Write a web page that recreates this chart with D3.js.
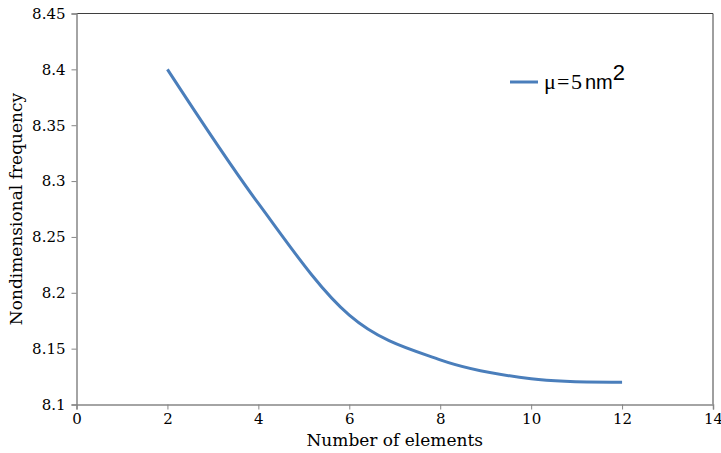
<!DOCTYPE html>
<html>
<head>
<meta charset="utf-8">
<script src="https://cdn.jsdelivr.net/npm/d3@7"></script>
<style>
  html, body { margin: 0; padding: 0; background: #fff; }
  svg { display: block; }
</style>
</head>
<body>
<svg id="chart" width="721" height="453"></svg>
<script>
// Number of elements vs. nondimensional frequency (μ = 5 nm²)
const elements = [2, 4, 6, 8, 10, 12];
const frequency = [8.40, 8.28, 8.18, 8.14, 8.123, 8.12];
const xTicks = [0, 2, 4, 6, 8, 10, 12, 14];
const yTicks = [8.1, 8.15, 8.2, 8.25, 8.3, 8.35, 8.4, 8.45];
const yTickLabels = ["8.1", "8.15", "8.2", "8.25", "8.3", "8.35", "8.4", "8.45"];

const svg = d3.select("#chart");
const margin = { left: 76.5, right: 8, top: 13.5, bottom: 48.5 };
const W = 721, H = 453;
const x = d3.scaleLinear().domain([0, 14]).range([margin.left, W - margin.right]);
const y = d3.scaleLinear().domain([8.1, 8.45]).range([H - margin.bottom, margin.top]);

const serif = "'DejaVu Serif', serif";
const times = "'Liberation Serif', 'Times New Roman', serif";
const sans = "'Liberation Sans', Arial, sans-serif";

// frame: top and right edges
svg.append("path")
  .attr("d", `M${x(0)},${y(8.45)}H${x(14)}V${y(8.1)}`)
  .attr("fill", "none").attr("stroke", "#3f3f3f").attr("stroke-width", 1);

// x axis
const xAxis = svg.append("g")
  .attr("transform", `translate(0,${y(8.1)})`)
  .call(d3.axisBottom(x).tickValues(xTicks).tickSize(5).tickPadding(4).tickFormat(d3.format("d")));
xAxis.attr("font-family", null);
xAxis.select(".domain").attr("stroke", "#868686").attr("stroke-width", 1.5);
xAxis.selectAll(".tick line").attr("stroke", "#868686");
xAxis.selectAll(".tick text").attr("fill", "#000").style("font-family", serif).style("font-size", "15px");

// y axis
const yAxis = svg.append("g")
  .attr("transform", `translate(${x(0)},0)`)
  .call(d3.axisLeft(y).tickValues(yTicks).tickSize(5).tickPadding(6)
    .tickFormat((d, i) => yTickLabels[i]));
yAxis.attr("font-family", null);
yAxis.select(".domain").attr("stroke", "#868686").attr("stroke-width", 1.5);
yAxis.selectAll(".tick line").attr("stroke", "#868686");
yAxis.selectAll(".tick text").attr("fill", "#000").style("font-family", serif).style("font-size", "15px");

// axis titles
svg.append("text")
  .attr("x", (x(0) + x(14)) / 2).attr("y", 446)
  .attr("text-anchor", "middle")
  .style("font-family", serif).style("font-size", "17px")
  .text("Number of elements");

svg.append("text")
  .attr("transform", `translate(22,${(y(8.1) + y(8.45)) / 2}) rotate(-90)`)
  .attr("text-anchor", "middle")
  .style("font-family", serif).style("font-size", "17px")
  .text("Nondimensional frequency");

// smoothed series line
const pts = elements.map((e, i) => [e, frequency[i]]);
svg.append("path")
  .datum(pts)
  .attr("fill", "none")
  .attr("stroke", "#4a7ebb")
  .attr("stroke-width", 3)
  .attr("stroke-linecap", "butt")
  .attr("d", d3.line().x(d => x(d[0])).y(d => y(d[1])).curve(d3.curveCardinal.tension(0)));

// legend
const lg = svg.append("g").attr("transform", "translate(510,82)");
lg.append("line").attr("x1", 0).attr("x2", 28).attr("y1", 0).attr("y2", 0)
  .attr("stroke", "#4a7ebb").attr("stroke-width", 3);
const lt = lg.append("text").attr("y", 7);
lt.append("tspan").attr("x", 34).style("font-family", times).style("font-size", "22px").text("μ");
lt.append("tspan").attr("x", 47).style("font-family", times).style("font-size", "22px").text("=");
lt.append("tspan").attr("x", 61).style("font-family", times).style("font-size", "22px").text("5");
lt.append("tspan").attr("x", 75).style("font-family", sans).style("font-size", "20px").text("nm");
lt.append("tspan").attr("dy", -9).style("font-family", sans).style("font-size", "22px").text("2");
</script>
</body>
</html>
